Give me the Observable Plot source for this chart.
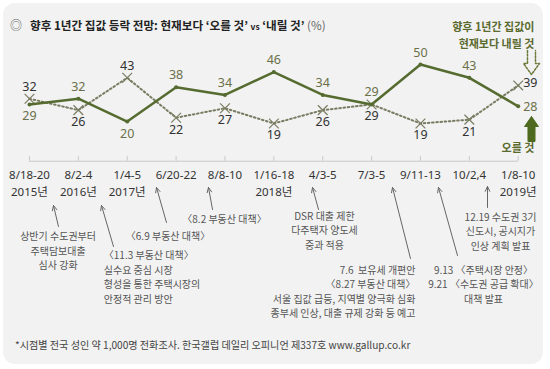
<!DOCTYPE html>
<html><head><meta charset="utf-8">
<script src="https://cdn.jsdelivr.net/npm/d3@7"></script>
<script src="https://cdn.jsdelivr.net/npm/@observablehq/plot@0.6"></script>
<style>
html,body{margin:0;padding:0;background:#fff;}
#wrap{position:relative;width:550px;height:369px;overflow:hidden;font-family:"Noto Sans CJK KR","Noto Sans",sans-serif;}
#card{position:absolute;left:3px;top:3px;width:540px;height:361px;border-radius:12px;background:#f2f2f2;}
#chart{position:absolute;left:0;top:0;}
#title{position:absolute;left:10px;top:16px;font-size:11.6px;font-weight:bold;color:#222;white-space:nowrap;line-height:18px;}
#title .ic{color:#666;font-weight:normal;margin-right:8px;font-size:12px;}
#title .vs{font-size:8.5px;}
#title .pct{font-weight:normal;color:#666;}
#foot{position:absolute;left:15px;top:337px;font-size:10.1px;color:#444;white-space:nowrap;line-height:16px;}
</style></head>
<body>
<div id="wrap">
  <div id="card"></div>
  <div id="chart"></div>
  <div id="title"><span class="ic">◎</span>향후 1년간 집값 등락 전망: 현재보다 ‘오를 것’ <span class="vs">vs</span> ‘내릴 것’ <span class="pct">(%)</span></div>
  <div id="foot">*시점별 전국 성인 약 1,000명 전화조사. 한국갤럽 데일리 오피니언 제337호 www.gallup.co.kr</div>
</div>
<script>
// ---- data ----
const dates = ["8/18-20","8/2-4","1/4-5","6/20-22","8/8-10","1/16-18","4/3-5","7/3-5","9/11-13","10/2,4","1/8-10"];
const years = ["2015년","2016년","2017년","","","2018년","","","","","2019년"];
const rise = [29,32,20,38,34,46,34,29,50,43,28];   // 오를 것
const fall = [32,26,43,22,27,19,26,29,19,21,39];   // 내릴 것

// ---- annotations (x in survey-index units, y in % units) ----
const noteText = [
  "상반기 수도권부터\n주택담보대출\n심사 강화",
  "〈11.3 부동산 대책〉\n실수요 중심 시장\n형성을 통한 주택시장의\n안정적 관리 방안",
  "〈6.9 부동산 대책〉",
  "〈8.2 부동산 대책〉",
  "DSR 대출 제한\n다주택자 양도세\n중과 적용",
  "7.6  보유세 개편안\n〈8.27 부동산 대책〉\n서울 집값 급등, 지역별 양극화 심화\n종부세 인상, 대출 규제 강화 등 예고",
  "9.13 〈주택시장 안정〉\n9.21 〈수도권 공급 확대〉\n대책 발표",
  "12.19 수도권 3기\n신도시, 공시지가\n인상 계획 발표"
];
const noteX = [0.585, 1.52, 2.834, 3.99, 6.036, 7.899, 9.29, 9.638];
const noteY = [-47.5, -61.36, -39.9, -30.7, -36.86, -69.03, -65.14, -37.28];
const noteAnchor = ["middle","start","middle","middle","middle","end","middle","middle"];
const arrowX1 = [0.593, 1.719, 2.803, 3.745, 5.914, 7.796, 8.758, 9.372];
const arrowY1 = [-35.17, -45.69, -33.07, -26.24, -26.24, -52.0, -50.42, -25.18];
const arrowX2 = [0.491, 1.473, 2.599, 3.663, 5.791, 7.428, 8.369, 9.372];
const arrowY2 = [-24.13, -24.13, -14.67, -14.67, -14.67, -14.67, -14.67, -14.14];

const axisLevel = -0.85;
const OLIVE = "#556b2f";
const FALLC = "#7a7c62";

const idx = d3.range(dates.length);
const riseData = idx.map(i => ({i, v: rise[i], pos: i === idx.length - 1 ? "right" : (rise[i] >= fall[i] ? "above" : "below")}));
const fallData = idx.map(i => ({i, v: fall[i], pos: i === idx.length - 1 ? "right" : (fall[i] > rise[i] ? "above" : "below")}));
const notes = noteText.map((t, k) => ({t, x: noteX[k], y: noteY[k], a: noteAnchor[k]}));
const arrows = arrowX1.map((x1, k) => ({x1, y1: arrowY1[k], x2: arrowX2[k], y2: arrowY2[k]}));

// legend block arrows (outline for 내릴 것, solid for 오를 것)
const downArrow = [[10.190,57.36],[10.190,50.53],[10.108,50.53],[10.272,44.74],[10.436,50.53],[10.354,50.53],[10.354,57.36]];
const upArrow = [[10.272,22.66],[10.415,17.40],[10.344,17.40],[10.344,9.52],[10.200,9.52],[10.200,17.40],[10.129,17.40],[10.272,22.66]];

const labelFont = 12.5;
const riseLabelC = "#6b7049";
const fallLabelC = "#333";
const tickFont = '"Noto Sans","Noto Sans CJK KR",sans-serif';
const noteFont = 10;
const noteLH = 1.45;

const chart = Plot.plot({
  width: 550, height: 330,
  marginTop: 64, marginBottom: 169, marginLeft: 29, marginRight: 32.3,
  x: {domain: [0, 10], axis: null},
  y: {domain: [-1, 50], axis: null},
  style: {background: "transparent", fontFamily: '"Noto Sans CJK KR","Noto Sans",sans-serif', overflow: "visible"},
  marks: [
    Plot.ruleY([axisLevel], {x1: 0, x2: 10, stroke: "#c8c8c8", strokeWidth: 1}),
    Plot.ruleX(idx, {x: d => d, y1: axisLevel, y2: axisLevel + 2.4, stroke: "#c8c8c8"}),
    Plot.line(fallData, {x: "i", y: "v", stroke: FALLC, strokeWidth: 2, strokeDasharray: "1.6,2.6"}),
    Plot.dot(fallData, {x: "i", y: "v", symbol: "times", r: 4.5, stroke: FALLC, strokeWidth: 1.2}),
    Plot.line(riseData, {x: "i", y: "v", stroke: OLIVE, strokeWidth: 2.5}),
    Plot.dot(riseData, {x: "i", y: "v", r: 2, fill: OLIVE}),
    // value labels
    Plot.text(riseData.filter(d => d.pos === "above"), {x: "i", y: "v", text: "v", dy: -12, fontSize: labelFont, fill: riseLabelC, fontFamily: tickFont}),
    Plot.text(riseData.filter(d => d.pos === "below"), {x: "i", y: "v", text: "v", dy: 12, fontSize: labelFont, fill: riseLabelC, fontFamily: tickFont}),
    Plot.text(riseData.filter(d => d.pos === "right"), {x: "i", y: "v", text: "v", dx: 5, dy: 1, textAnchor: "start", fontSize: labelFont, fill: riseLabelC, fontFamily: tickFont}),
    Plot.text(fallData.filter(d => d.pos === "above"), {x: "i", y: "v", text: "v", dy: -12, fontSize: labelFont, fill: fallLabelC, fontFamily: tickFont}),
    Plot.text(fallData.filter(d => d.pos === "below"), {x: "i", y: "v", text: "v", dy: 12, fontSize: labelFont, fill: fallLabelC, fontFamily: tickFont}),
    Plot.text(fallData.filter(d => d.pos === "right"), {x: "i", y: "v", text: "v", dx: 5, dy: -2, textAnchor: "start", fontSize: labelFont, fill: fallLabelC, fontFamily: tickFont}),
    // x tick labels (date, then year)
    Plot.text(idx, {x: d => d, y: -8.1, text: d => dates[d], fontSize: 11.5, fill: "#333", fontFamily: tickFont}),
    Plot.text(idx.filter(i => years[i]), {x: d => d, y: -17.0, text: d => years[d], fontSize: 11.5, fill: "#333", fontFamily: tickFont}),
    // annotations
    Plot.arrow(arrows, {x1: "x1", y1: "y1", x2: "x2", y2: "y2", stroke: "#666", strokeWidth: 1, headLength: 8, headAngle: 50}),
    Plot.text(notes.filter(d => d.a === "middle"), {x: "x", y: "y", text: "t", fontSize: noteFont, lineHeight: noteLH, fill: "#555", textAnchor: "middle"}),
    Plot.text(notes.filter(d => d.a === "start"), {x: "x", y: "y", text: "t", fontSize: noteFont, lineHeight: noteLH, fill: "#555", textAnchor: "start"}),
    Plot.text(notes.filter(d => d.a === "end"), {x: "x", y: "y", text: "t", fontSize: noteFont, lineHeight: noteLH, fill: "#555", textAnchor: "end"}),
    // legend-like labels at right
    Plot.text(["향후 1년간 집값이\n현재보다 내릴 것"], {x: 10.333, y: 66.04, text: d => d, textAnchor: "end", fontSize: 11, lineHeight: 1.52, fontWeight: "bold", fill: "#5b6a2e"}),
    Plot.line(downArrow, {x: d => d[0], y: d => d[1], stroke: "#6b7a3a", strokeWidth: 1.5, strokeDasharray: "2,1.6"}),
    Plot.line(upArrow, {x: d => d[0], y: d => d[1], fill: "#4e6a1f", stroke: "#4e6a1f", strokeWidth: 1}),
    Plot.text(["오를 것"], {x: 10.333, y: 6.1, text: d => d, textAnchor: "end", fontSize: 11, fontWeight: "bold", fill: "#5b6a2e"})
  ]
});
document.getElementById("chart").appendChild(chart);
</script>
</body></html>
